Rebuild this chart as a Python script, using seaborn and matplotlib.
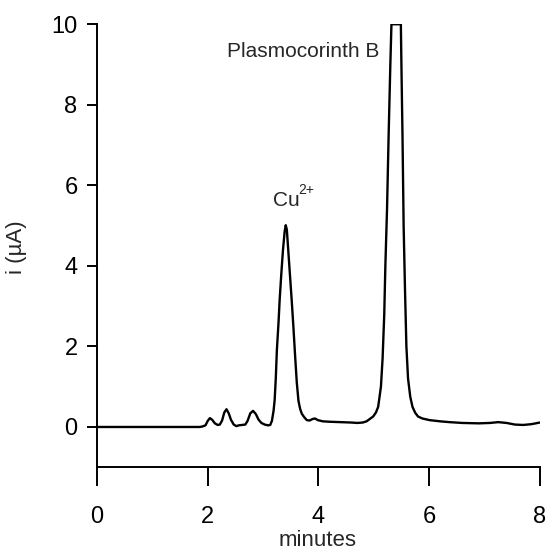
import pandas as pd
import matplotlib
matplotlib.use('Agg')
import matplotlib.pyplot as plt
import seaborn as sns

# trace (minutes, current in uA); top of main peak is off-scale at 10
minutes = [0.0, 1.85, 1.9, 1.96, 2.0, 2.04, 2.08, 2.13, 2.18, 2.22, 2.26, 2.30, 2.34, 2.38,
           2.42, 2.47, 2.52, 2.56, 2.62, 2.68, 2.72, 2.77, 2.82, 2.87, 2.92, 2.97, 3.03,
           3.09, 3.13, 3.16, 3.19, 3.21, 3.23, 3.25, 3.28, 3.30, 3.33, 3.36, 3.39, 3.41,
           3.43, 3.44, 3.46, 3.49, 3.52, 3.55, 3.58, 3.61, 3.64, 3.67, 3.70, 3.74, 3.79,
           3.84, 3.90, 3.94, 3.99, 4.08, 4.2, 4.4, 4.6, 4.7, 4.8, 4.87, 4.93, 4.99, 5.04,
           5.08, 5.13, 5.16, 5.19, 5.21, 5.24, 5.27, 5.30, 5.32, 5.49, 5.50, 5.52, 5.54,
           5.565, 5.59, 5.62, 5.66, 5.70, 5.75, 5.80, 5.88, 6.01, 6.2, 6.37, 6.6, 6.9, 7.1,
           7.25, 7.4, 7.55, 7.7, 7.85, 8.0]
current = [0.0, 0.0, 0.01, 0.04, 0.15, 0.22, 0.18, 0.09, 0.05, 0.06, 0.16, 0.36, 0.44, 0.34,
           0.18, 0.06, 0.02, 0.04, 0.05, 0.06, 0.15, 0.34, 0.40, 0.32, 0.18, 0.10, 0.06,
           0.04, 0.05, 0.15, 0.40, 0.67, 1.2, 1.91, 2.6, 3.15, 3.8, 4.39, 4.85, 5.01,
           4.9, 4.7, 4.3, 3.7, 3.1, 2.45, 1.75, 1.1, 0.65, 0.45, 0.33, 0.25, 0.17,
           0.16, 0.20, 0.21, 0.17, 0.14, 0.13, 0.12, 0.11, 0.10, 0.11, 0.14, 0.2, 0.26, 0.36,
           0.50, 1.0, 1.7, 2.8, 4.0, 5.4, 7.3, 9.0, 10.0, 10.0, 9.0, 7.2, 5.0,
           3.4, 2.0, 1.2, 0.75, 0.50, 0.35, 0.26, 0.21, 0.17, 0.14, 0.12, 0.10, 0.09, 0.10,
           0.12, 0.10, 0.06, 0.05, 0.07, 0.11]

x_ticks = [0, 2, 4, 6, 8]
y_ticks = [0, 2, 4, 6, 8, 10]

df = pd.DataFrame({'minutes': minutes, 'current': current})

sns.set_style('ticks')
plt.rcParams['font.family'] = ['Liberation Sans', 'DejaVu Sans']

fig = plt.figure(figsize=(5.48, 5.51), dpi=100)
ax = fig.add_axes([0.177, 0.152, 0.808, 0.804])

sns.lineplot(data=df, x='minutes', y='current', color='black', lw=1.7,
             estimator=None, ax=ax)

ax.set_xlim(0, 8)
ax.set_ylim(-1, 10)
ax.set_xticks(x_ticks)
ax.set_yticks(y_ticks)
for s in ['top', 'right']:
    ax.spines[s].set_visible(False)
for s in ['left', 'bottom']:
    ax.spines[s].set_linewidth(1.4)
    ax.spines[s].set_color('black')

ax.tick_params(axis='x', length=14, width=1.4, pad=14, labelsize=17, colors='black')
ax.tick_params(axis='y', length=7, width=1.4, pad=7, labelsize=17, colors='black')

ax.set_xlabel('minutes', fontsize=16)
ax.set_ylabel('i (\u00b5A)', fontsize=16)
ax.xaxis.set_label_coords(0.499, -0.141)
ax.yaxis.set_label_coords(-0.158, 0.497)

ax.text(3.72, 9.33, 'Plasmocorinth B', fontsize=15, ha='center', va='center')
# Cu label with its charge as a small raised text
ax.text(3.18, 5.63, 'Cu', fontsize=15, ha='left', va='center')
ax.annotate('2+', xy=(3.18, 5.63), xytext=(18.5, 2.5), textcoords='offset points',
            fontsize=10, ha='left', va='bottom')

plt.savefig('out.png', dpi=100)
